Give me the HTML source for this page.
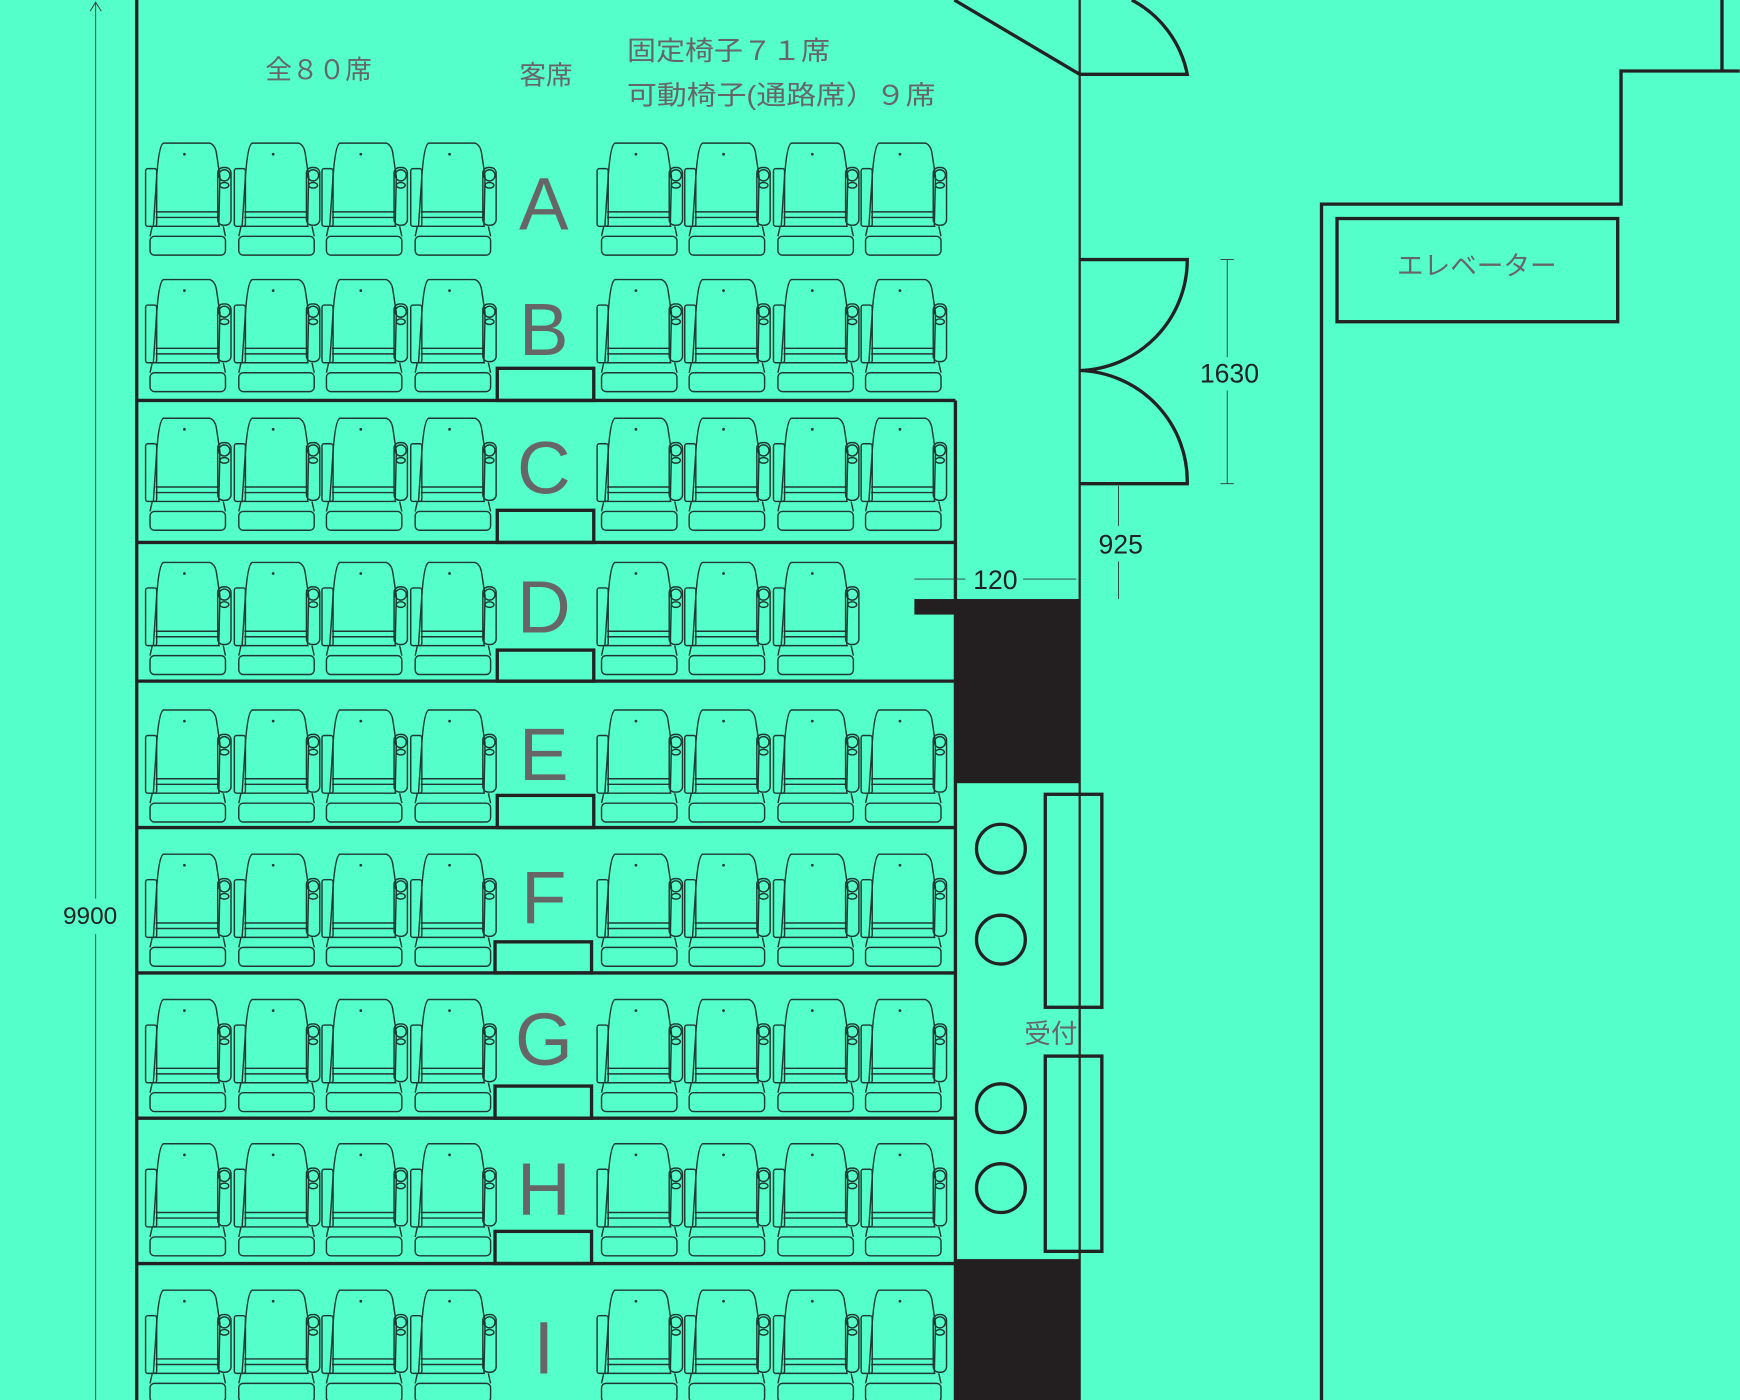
<!DOCTYPE html>
<html><head><meta charset="utf-8"><style>
html,body{margin:0;padding:0;background:#55ffca;overflow:hidden}
svg{display:block}
text{font-family:"Liberation Sans","Noto Sans CJK JP",sans-serif}
</style></head><body>
<svg id="s" width="1740" height="1400" viewBox="0 0 1568 1262" xmlns="http://www.w3.org/2000/svg">
<defs>
<g id="seat" fill="none" stroke="#1e3a30" stroke-width="1.3">
<rect x="0" y="23" width="10" height="52" rx="2"/>
<path d="M7 75 L10 30 Q12 2 16 0 L58 0 Q63 2 64 10 L67 30 L66 75"/>
<path d="M9 62 L66 62 M9 67 L66 67 M7 75 L67 75"/>
<path d="M6 75 L4 84 M70 75 L72 84"/>
<rect x="4" y="84" width="68" height="17" rx="4"/>
<rect x="65" y="22" width="12" height="52" rx="5"/>
<circle cx="71" cy="29" r="5"/>
<ellipse cx="71" cy="38" rx="4" ry="2.5"/>
<circle cx="35" cy="10" r="0.6" fill="#1e3a30"/>
</g>
</defs>
<g fill="none" stroke="#222" stroke-width="3">
<line x1="123" y1="0" x2="123" y2="1262"/>
<path d="M123 361H861M123 489H861M123 614H861M123 746H861M123 877H861M123 1008H861M123 1139H861"/>
<line x1="861" y1="361" x2="861" y2="1262"/>
<rect x="448" y="332" width="87" height="29"/>
<rect x="448" y="460" width="87" height="29"/>
<rect x="448" y="586" width="87" height="28"/>
<rect x="448" y="717" width="87" height="29"/>
<rect x="446" y="849" width="87" height="28"/>
<rect x="446" y="979" width="87" height="29"/>
<rect x="446" y="1110" width="87" height="29"/>
<line x1="973" y1="0" x2="973" y2="1262" stroke-width="2"/>
<line x1="860" y1="0" x2="973" y2="67"/>
<path d="M973 67H1070 A97 97 0 0 0 1020 0"/>
<path d="M973 234H1070 A100 100 0 0 1 973 334 A100 100 0 0 1 1070 436 H973"/>
<circle cx="902" cy="765" r="22"/><circle cx="902" cy="847" r="22"/>
<circle cx="902" cy="999" r="22"/><circle cx="902" cy="1071" r="22"/>
<rect x="942" y="716" width="51" height="192"/>
<rect x="942" y="952" width="51" height="176"/>
<path d="M1191 1262V184H1461V64H1568M1552 0V64"/>
<rect x="1205" y="197" width="253" height="93"/>
</g>
<g fill="#231f20">
<rect x="861" y="540" width="112" height="166"/>
<rect x="824" y="540" width="40" height="14"/>
<rect x="861" y="1135" width="112" height="127"/>
</g>
<g stroke="#333" stroke-width="0.8" fill="none">
<line x1="86" y1="2" x2="86" y2="810"/><line x1="86" y1="842" x2="86" y2="1262"/>
<path d="M81 10 L86 2 L91 10"/>
<line x1="1106" y1="234" x2="1106" y2="322"/><line x1="1106" y1="352" x2="1106" y2="436"/>
<path d="M1100 234H1112M1100 436H1112"/>
<line x1="1008" y1="438" x2="1008" y2="474"/><line x1="1008" y1="506" x2="1008" y2="540"/>
<line x1="824" y1="522" x2="870" y2="522"/><line x1="922" y1="522" x2="970" y2="522"/>
</g>
<g fill="#222" font-size="24" text-anchor="middle">
<text x="81" y="833" font-size="22" font-family="Liberation Serif,serif">9900</text>
<text x="1108" y="345">1630</text>
<text x="1010" y="499">925</text>
<text x="897" y="531">120</text>
</g>
<g fill="#666" font-size="24">
<text x="287" y="71" text-anchor="middle">全８０席</text>
<text x="492" y="76" text-anchor="middle">客席</text>
<text x="565" y="54" textLength="183" lengthAdjust="spacingAndGlyphs">固定椅子７１席</text>
<text x="565" y="94" textLength="278" lengthAdjust="spacingAndGlyphs">可動椅子(通路席）９席</text>
<text x="947" y="940" text-anchor="middle">受付</text>
<text x="1331" y="248" text-anchor="middle">エレベーター</text>
</g>
<g id="letters" fill="#666" font-size="67" text-anchor="middle" style="font-family:'DejaVu Sans',sans-serif"></g>
<g id="seats"></g>
</svg>
<script>
var ns="http://www.w3.org/2000/svg";
var rows=[129,252,377,507,640,770,901,1031,1163],L="ABCDEFGHI";
var bl=[207,320,445,570,703,832,960,1095,1238];
var xs=[131,211,290,370,538,617,697,776];
var sg=document.getElementById("seats"),lg=document.getElementById("letters");
rows.forEach(function(y,i){
 xs.forEach(function(x,j){ if(i==3&&j==7)return;
  var u=document.createElementNS(ns,"use");u.setAttribute("href","#seat");
  u.setAttribute("x",x);u.setAttribute("y",y);sg.appendChild(u);});
 var t=document.createElementNS(ns,"text");t.setAttribute("x",490);t.setAttribute("y",bl[i]);
 t.textContent=L[i];lg.appendChild(t);
});
</script>
</body></html>
